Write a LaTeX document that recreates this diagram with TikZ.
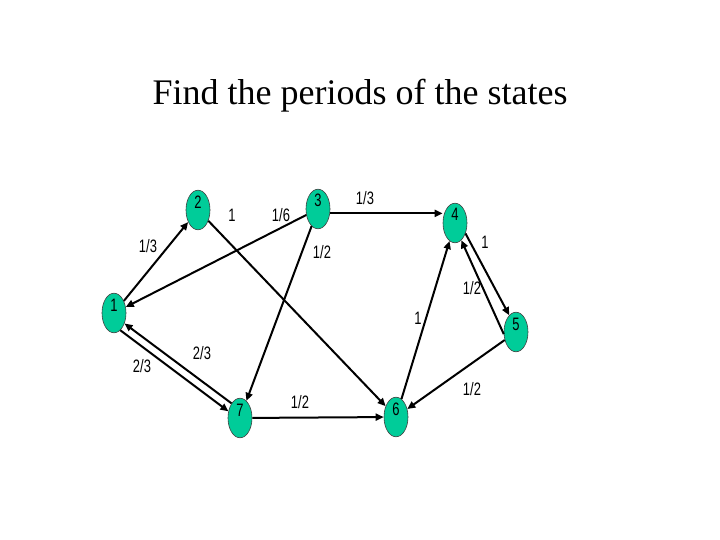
\documentclass[tikz,border=0pt]{standalone}
\usepackage{fontspec}
\setmainfont{Liberation Sans}[FakeStretch=0.72]
\newfontfamily\titlefont{Liberation Serif}
\usetikzlibrary{arrows.meta,shapes.geometric}
\definecolor{stategreen}{RGB}{0,204,153}

\begin{document}
\begin{tikzpicture}[
  x=1pt, y=-1pt,
  font=\fontsize{18}{21}\selectfont,
  >={Triangle[length=8pt,width=7pt]},
  state/.style={
    ellipse,
    draw=black!75,
    line width=0.6pt,
    fill=stategreen,
    minimum width=24pt,
    minimum height=38pt,
    inner sep=0pt,
    text height=12pt,
    text depth=16pt
  },
  trans/.style={->, line width=2pt},
  prob/.style={inner sep=1pt}
]
\useasboundingbox (0,0) rectangle (720,540);

% Title.
\node[font=\titlefont\fontsize{36}{40}\selectfont] (title) at (360,96)
  {Find the periods of the states};

% States of the chain.
\node[state] (s1) at (114,313) {1};
\node[state] (s2) at (198,210) {2};
\node[state] (s3) at (318,209) {3};
\node[state] (s4) at (455,223) {4};
\node[state] (s5) at (516,332) {5};
\node[state] (s6) at (396,417) {6};
\node[state] (s7) at (240,418) {7};

% Transitions.
\draw[trans] (s1) -- (s2);
\draw[trans] (s2) -- (s6);
\draw[trans] (s3) -- (s1);
\draw[trans] (s3) -- (s7);
\draw[trans] (s3.-20) -- (s3.-20 -| s4.west);
\draw[trans] (s4.-45) -- (s5.112);
\draw[trans] (s5.190) -- (s4.-70);
\draw[trans] (s6) -- (s4);
\draw[trans] (s5) -- (s6);
\draw[trans] (s7) -- (s6);
\draw[trans] (s1.-70) -- (s7.150);
\draw[trans] (s7.120) -- (s1.-45);

% Transition probabilities.
\node[prob] (p12) at (148,246) {1/3};
\node[prob] (p26) at (232,215) {1};
\node[prob] (p31) at (281,215) {1/6};
\node[prob] (p34) at (365,198) {1/3};
\node[prob] (p37) at (322,252) {1/2};
\node[prob] (p45) at (485,242) {1};
\node[prob] (p54) at (472,288) {1/2};
\node[prob] (p64) at (418,318) {1};
\node[prob] (p17) at (142,366) {2/3};
\node[prob] (p71) at (202,353) {2/3};
\node[prob] (p76) at (300,402) {1/2};
\node[prob] (p56) at (472,389) {1/2};

\end{tikzpicture}
\end{document}
